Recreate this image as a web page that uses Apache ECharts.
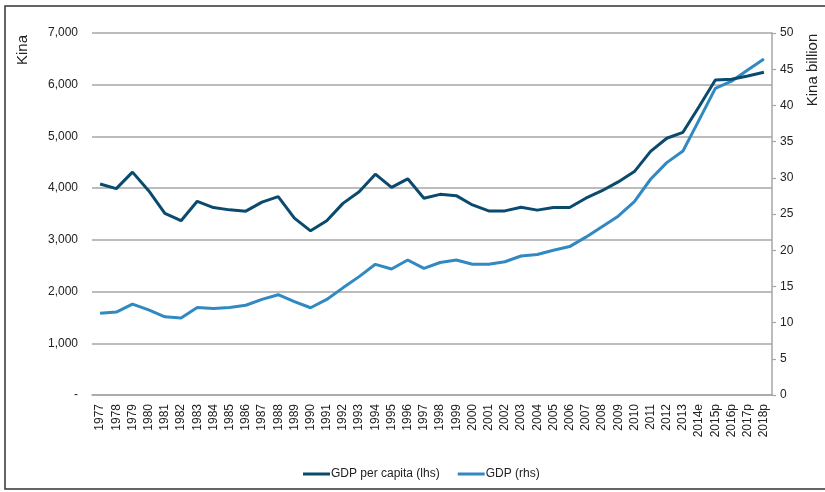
<!DOCTYPE html>
<html>
<head>
<meta charset="utf-8">
<script src="https://cdn.jsdelivr.net/npm/echarts@6/dist/echarts.min.js"></script>
<style>
html,body{margin:0;padding:0;background:#fff;}
#c{width:825px;height:492px;}
</style>
</head>
<body>
<div id="c"></div>
<script>
var categories = ['1977','1978','1979','1980','1981','1982','1983','1984','1985','1986','1987','1988','1989','1990','1991','1992','1993','1994','1995','1996','1997','1998','1999','2000','2001','2002','2003','2004','2005','2006','2007','2008','2009','2010','2011','2012','2013','2014e','2015p','2016p','2017p','2018p'];
var gdpPerCapita = [4080,3990,4310,3950,3510,3370,3745,3625,3580,3555,3730,3835,3420,3175,3370,3705,3930,4270,4015,4180,3805,3880,3855,3675,3560,3560,3630,3575,3625,3625,3805,3950,4120,4320,4710,4965,5080,5580,6090,6105,6170,6240];
var gdp = [11.3,11.45,12.55,11.75,10.8,10.65,12.1,11.95,12.1,12.4,13.2,13.85,12.9,12.05,13.2,14.8,16.35,18.05,17.4,18.65,17.5,18.3,18.64,18.05,18.05,18.4,19.2,19.4,20.0,20.5,21.8,23.25,24.7,26.7,29.8,32.1,33.7,38.0,42.35,43.35,44.9,46.4];
var leftTicks = {min:0, max:7000, interval:1000};
var rightTicks = {min:0, max:50, interval:5};
var seriesNames = ['GDP per capita (lhs)','GDP (rhs)'];

var chart = echarts.init(document.getElementById('c'), null, {renderer:'canvas'});
var font = 'Liberation Sans, Arial, sans-serif';
var option = {
  animation:false,
  backgroundColor:'#fff',
  textStyle:{fontFamily:font},
  grid:{left:92,right:53,top:33,bottom:97,containLabel:false},
  xAxis:{
    type:'category', data:categories, boundaryGap:true,
    axisLine:{show:true,lineStyle:{color:'#a6a6a6',width:1.5}},
    axisTick:{show:false},
    axisLabel:{rotate:90,fontSize:12,color:'#222',margin:9,fontFamily:font,interval:0}
  },
  yAxis:[{
    type:'value', min:leftTicks.min, max:leftTicks.max, interval:leftTicks.interval, position:'left',
    axisLine:{show:false}, axisTick:{show:false},
    splitLine:{show:true,lineStyle:{color:'#a6a6a6',width:1.5}},
    axisLabel:{fontSize:12,color:'#222',margin:14,fontFamily:font,
      formatter:function(v){ return v===0?'-':v.toLocaleString('en-US'); }}
  },{
    type:'value', min:rightTicks.min, max:rightTicks.max, interval:rightTicks.interval, position:'right',
    axisLine:{show:true,lineStyle:{color:'#a6a6a6',width:1.5}},
    axisTick:{show:true,inside:false,length:4,lineStyle:{color:'#a6a6a6',width:1.2}},
    splitLine:{show:false},
    axisLabel:{fontSize:12,color:'#222',margin:8,fontFamily:font}
  }],
  legend:{
    left:298, top:463, itemWidth:27, itemHeight:3, itemGap:18, icon:'rect',
    textStyle:{fontSize:12,color:'#222',fontFamily:font,padding:[0,0,0,-4]},
    data:seriesNames
  },
  series:[{
    name:seriesNames[0], type:'line', yAxisIndex:0, data:gdpPerCapita,
    showSymbol:false, symbol:'none', lineStyle:{color:'#0b4a6f',width:3}, itemStyle:{color:'#0b4a6f'}, z:3
  },{
    name:seriesNames[1], type:'line', yAxisIndex:1, data:gdp,
    showSymbol:false, symbol:'none', lineStyle:{color:'#3189c2',width:3}, itemStyle:{color:'#3189c2'}, z:2
  }],
  graphic:[
    {type:'rect', shape:{x:5,y:6,width:840,height:483}, style:{fill:'none',stroke:'#333',lineWidth:1.5}, silent:true},
    {type:'text', x:23, y:50, rotation:Math.PI/2, style:{text:'Kina',font:'15px '+font,fill:'#222',textAlign:'center',textVerticalAlign:'middle'}},
    {type:'text', x:813, y:70, rotation:Math.PI/2, style:{text:'Kina billion',font:'15px '+font,fill:'#222',textAlign:'center',textVerticalAlign:'middle'}}
  ]
};
chart.setOption(option);
</script>
</body>
</html>
